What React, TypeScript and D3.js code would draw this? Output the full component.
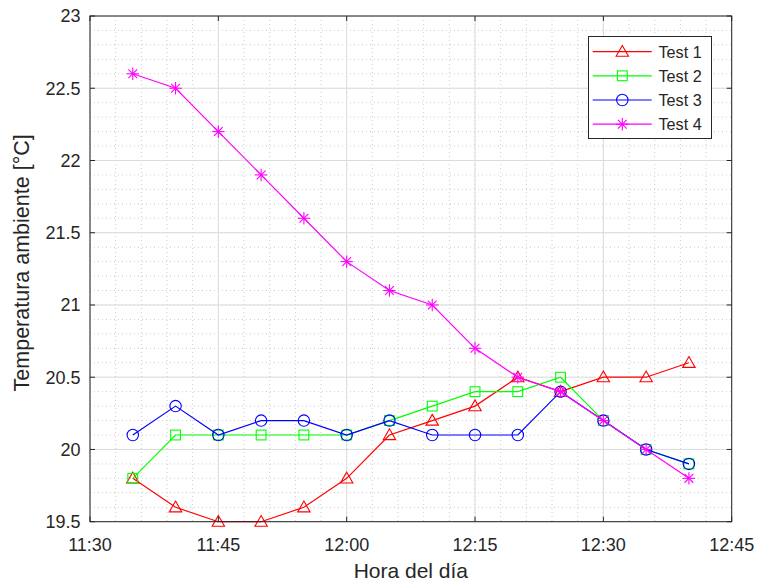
import React from 'react';
import * as d3 from 'd3';

// Sample times (HH:MM) and ambient temperature for each test run
const times = ['11:35', '11:40', '11:45', '11:50', '11:55', '12:00', '12:05', '12:10', '12:15', '12:20', '12:25', '12:30', '12:35', '12:40'];
const test1 = [19.8, 19.6, 19.5, 19.5, 19.6, 19.8, 20.1, 20.2, 20.3, 20.5, 20.4, 20.5, 20.5, 20.6];
const test2 = [19.8, 20.1, 20.1, 20.1, 20.1, 20.1, 20.2, 20.3, 20.4, 20.4, 20.5, 20.2, 20.0, 19.9];
const test3 = [20.1, 20.3, 20.1, 20.2, 20.2, 20.1, 20.2, 20.1, 20.1, 20.1, 20.4, 20.2, 20.0, 19.9];
const test4 = [22.6, 22.5, 22.2, 21.9, 21.6, 21.3, 21.1, 21.0, 20.7, 20.5, 20.4, 20.2, 20.0, 19.8];

const seriesNames = ['Test 1', 'Test 2', 'Test 3', 'Test 4'];
const seriesValues = [test1, test2, test3, test4];
const seriesColors = ['#ff0000', '#00ff00', '#0000ff', '#ff00ff'];
const seriesMarkers = ['triangle', 'square', 'circle', 'asterisk'];

const xDomain = ['11:30', '12:45'];
const yDomain = [19.5, 23];
const xLabel = 'Hora del día';
const yLabel = 'Temperatura ambiente [°C]';

const W = 759;
const H = 585;
const M = { left: 90, right: 731.7, top: 16, bottom: 521.7 };
const FONT = "'Liberation Sans', Arial, Helvetica, sans-serif";
const TEXT = '#262626';

const parse = d3.timeParse('%H:%M');

function Marker({ kind, x, y, color }: { kind: string; x: number; y: number; color: string }) {
  const common = { fill: 'none', stroke: color, strokeWidth: 1.1 };
  if (kind === 'triangle') {
    const p = `${x},${y - 6.2} ${x + 6.2},${y + 4.6} ${x - 6.2},${y + 4.6}`;
    return <polygon points={p} {...common} />;
  }
  if (kind === 'square') {
    return <rect x={x - 4.9} y={y - 4.9} width={9.8} height={9.8} {...common} />;
  }
  if (kind === 'circle') {
    return <circle cx={x} cy={y} r={5.7} {...common} />;
  }
  const a = 6.2;
  const d = 4.4;
  return (
    <g {...common}>
      <line x1={x - a} y1={y} x2={x + a} y2={y} />
      <line x1={x} y1={y - a} x2={x} y2={y + a} />
      <line x1={x - d} y1={y - d} x2={x + d} y2={y + d} />
      <line x1={x - d} y1={y + d} x2={x + d} y2={y - d} />
    </g>
  );
}

export default function App() {
  const x = d3.scaleTime().domain(xDomain.map((t) => parse(t) as Date)).range([M.left, M.right]);
  const y = d3.scaleLinear().domain(yDomain).range([M.bottom, M.top]);

  const xMajor = x.ticks(d3.timeMinute.every(15) as d3.TimeInterval);
  const xMinor = x.ticks(d3.timeMinute.every(3) as d3.TimeInterval);
  const yMajor = y.ticks(7);
  const yMinor = y.ticks(35);
  const fmtX = d3.timeFormat('%H:%M');
  const fmtY = d3.format('~g');

  const dates = times.map((t) => parse(t) as Date);
  const line = d3
    .line<number>()
    .x((_, i) => x(dates[i]))
    .y((v) => y(v));

  const tickLen = 5;
  const legend = { x0: 588.5, x1: 711.5, y0: 36.5, y1: 138.5, rowY: [51.7, 75.8, 100, 124.2] };

  return (
    <svg width={W} height={H} style={{ position: 'absolute', left: 0, top: 0, background: '#fff' }} fontFamily={FONT}>
      <rect x={0} y={0} width={W} height={H} fill="#fff" />
      {/* minor grid */}
      <g stroke="#cdcdcd" strokeWidth={1} strokeDasharray="1,3">
        {xMinor.map((t, i) => (
          <line key={'xm' + i} x1={x(t)} x2={x(t)} y1={M.top} y2={M.bottom} />
        ))}
        {yMinor.map((v, i) => (
          <line key={'ym' + i} x1={M.left} x2={M.right} y1={y(v)} y2={y(v)} />
        ))}
      </g>
      {/* major grid */}
      <g stroke="#dcdcdc" strokeWidth={1}>
        {xMajor.map((t, i) => (
          <line key={'xM' + i} x1={x(t)} x2={x(t)} y1={M.top} y2={M.bottom} />
        ))}
        {yMajor.map((v, i) => (
          <line key={'yM' + i} x1={M.left} x2={M.right} y1={y(v)} y2={y(v)} />
        ))}
      </g>

      {/* series */}
      {seriesValues.map((vals, s) => (
        <g key={seriesNames[s]}>
          <path d={line(vals) || ''} fill="none" stroke={seriesColors[s]} strokeWidth={1.2} />
          {vals.map((v, i) => (
            <Marker key={i} kind={seriesMarkers[s]} x={x(dates[i])} y={y(v)} color={seriesColors[s]} />
          ))}
        </g>
      ))}

      {/* axes box and ticks */}
      <rect x={M.left} y={M.top} width={M.right - M.left} height={M.bottom - M.top} fill="none" stroke={TEXT} strokeWidth={1} />
      <g stroke={TEXT} strokeWidth={1}>
        {xMajor.map((t, i) => (
          <g key={'xt' + i}>
            <line x1={x(t)} x2={x(t)} y1={M.bottom} y2={M.bottom - tickLen} />
            <line x1={x(t)} x2={x(t)} y1={M.top} y2={M.top + tickLen} />
          </g>
        ))}
        {yMajor.map((v, i) => (
          <g key={'yt' + i}>
            <line x1={M.left} x2={M.left + tickLen} y1={y(v)} y2={y(v)} />
            <line x1={M.right} x2={M.right - tickLen} y1={y(v)} y2={y(v)} />
          </g>
        ))}
      </g>

      {/* tick labels */}
      <g fill={TEXT} fontSize={18}>
        {xMajor.map((t, i) => (
          <text key={'xl' + i} x={x(t)} y={550.5} textAnchor="middle">
            {fmtX(t)}
          </text>
        ))}
        {yMajor.map((v, i) => (
          <text key={'yl' + i} x={80.5} y={y(v) + 6.4} textAnchor="end">
            {fmtY(v)}
          </text>
        ))}
      </g>

      {/* axis labels */}
      <text x={(M.left + M.right) / 2} y={578.3} textAnchor="middle" fontSize={21} fill={TEXT}>
        {xLabel}
      </text>
      <text
        transform={`translate(28.5, ${(M.top + M.bottom) / 2 - 6}) rotate(-90)`}
        textAnchor="middle"
        fontSize={21.5}
        fill={TEXT}
      >
        {yLabel}
      </text>

      {/* legend */}
      <rect x={legend.x0} y={legend.y0} width={legend.x1 - legend.x0} height={legend.y1 - legend.y0} fill="#fff" stroke={TEXT} strokeWidth={1} />
      {seriesNames.map((name, s) => (
        <g key={'lg' + s}>
          <line x1={592.7} x2={651.7} y1={legend.rowY[s]} y2={legend.rowY[s]} stroke={seriesColors[s]} strokeWidth={1.2} />
          <Marker kind={seriesMarkers[s]} x={622.3} y={legend.rowY[s]} color={seriesColors[s]} />
          <text x={658.5} y={legend.rowY[s] + 5.8} fontSize={16.2} fill={TEXT}>
            {name}
          </text>
        </g>
      ))}
    </svg>
  );
}
